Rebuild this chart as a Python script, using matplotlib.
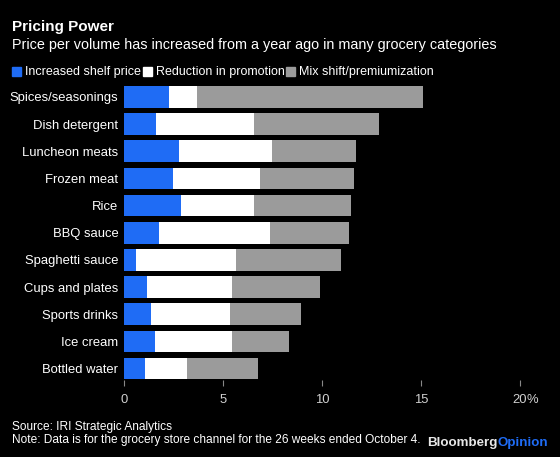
import numpy as np
import matplotlib.pyplot as plt

categories = ["Spices/seasonings", "Dish detergent", "Luncheon meats", "Frozen meat",
              "Rice", "BBQ sauce", "Spaghetti sauce", "Cups and plates",
              "Sports drinks", "Ice cream", "Bottled water"]
shelf_price = [2.27, 1.6, 2.78, 2.47, 2.86, 1.77, 0.6, 1.16, 1.38, 1.58, 1.08]
promotion = [1.42, 4.97, 4.71, 4.4, 3.71, 5.58, 5.08, 4.31, 3.99, 3.89, 2.08]
mix_shift = [11.41, 6.31, 4.21, 4.73, 4.89, 4.01, 5.28, 4.43, 3.57, 2.87, 3.62]
series_names = ["Increased shelf price", "Reduction in promotion", "Mix shift/premiumization"]
xticks = [0, 5, 10, 15, 20]

BLUE = "#1f6cf5"
GRAY = "#9b9b9b"
BG = "black"

plt.rcParams['font.family'] = ['Liberation Sans', 'DejaVu Sans']

fig = plt.figure(figsize=(5.6, 4.57), dpi=100, facecolor=BG)
ax = fig.add_axes([124 / 560, 1 - 380 / 457, 396 / 560, 294 / 457], facecolor=BG)

y = np.arange(len(categories))
left1 = np.array(shelf_price)
left2 = left1 + np.array(promotion)
ax.barh(y, shelf_price, height=0.8, color=BLUE)
ax.barh(y, promotion, left=left1, height=0.8, color="white")
ax.barh(y, mix_shift, left=left2, height=0.8, color=GRAY)

ax.set_xlim(0, 20)
ax.set_ylim(10.42, -0.4)
for s in ax.spines.values():
    s.set_visible(False)

ax.set_yticks(y)
ax.set_yticklabels(categories, color="white", fontsize=9.4)
ax.tick_params(axis="y", length=0, pad=4)
ax.set_xticks(xticks)
ax.set_xticklabels([str(t) for t in xticks], color="#d0d0d0", fontsize=9.4)
ax.tick_params(axis="x", length=4, width=0.8, color="#888888", pad=6)
ax.annotate("%", xy=(20, 0), xycoords=("data", "axes fraction"),
            xytext=(4.6, -10), textcoords="offset points",
            ha="left", va="top", color="#d0d0d0", fontsize=9.4)

# title block
fig.text(12 / 560, 1 - 27 / 457, "Pricing Power", color="white", fontsize=11,
         fontweight="bold", va="center", ha="left")
fig.text(12 / 560, 1 - 45 / 457, "Price per volume has increased from a year ago in many grocery categories",
         color="white", fontsize=10.4, va="center", ha="left")

# legend
for x0, name, c in zip([12, 143, 286], series_names, [BLUE, "white", GRAY]):
    fig.patches.append(plt.Rectangle((x0 / 560, 1 - 76 / 457), 9 / 560, 9 / 457,
                                     transform=fig.transFigure, color=c))
    fig.text((x0 + 13) / 560, 1 - 71.5 / 457, name, color="white", fontsize=9,
             va="center", ha="left")

# footer
fig.text(12 / 560, 1 - 427 / 457, "Source: IRI Strategic Analytics", color="white",
         fontsize=8.6, va="center")
fig.text(12 / 560, 1 - 440 / 457, "Note: Data is for the grocery store channel for the 26 weeks ended October 4.",
         color="white", fontsize=8.6, va="center")
t = fig.text(427 / 560, 1 - 443 / 457, "Bloomberg", color="#e8e8e8", fontsize=9.6,
             fontweight="bold", va="center")
fig.canvas.draw()
bb = t.get_window_extent()
fig.text(bb.x1 / 560, 1 - 443 / 457, "Opinion", color=BLUE, fontsize=9.6,
         fontweight="bold", va="center")

fig.savefig("out.png", dpi=100, facecolor=BG)
